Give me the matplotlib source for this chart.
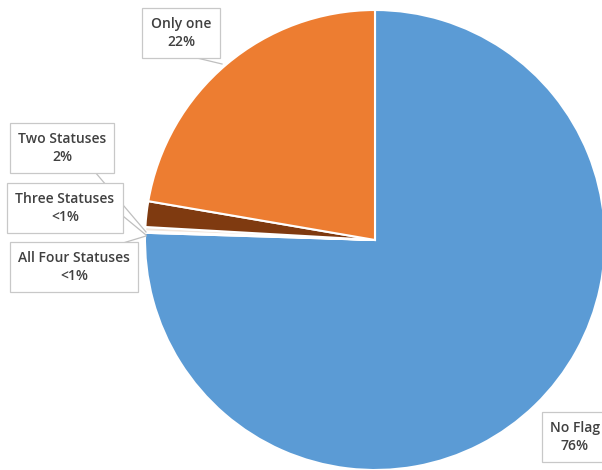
import matplotlib
matplotlib.use("Agg")
import matplotlib.pyplot as plt

categories = ["No Flag", "All Four Statuses", "Three Statuses", "Two Statuses", "Only one"]
values = [75.5, 0.1, 0.3, 1.8, 22.3]
pct_labels = ["76%", "<1%", "<1%", "2%", "22%"]
colors = ["#5B9BD5", "#E8EEF6", "#F2E6DC", "#7F3A10", "#ED7D31"]

W, H = 602, 470
fig = plt.figure(figsize=(W / 100, H / 100), dpi=100)
ax = fig.add_axes([0, 0, 1, 1])

cx, cy, r = 375, H - 240, 230
wedges, _ = ax.pie(values, colors=colors, startangle=90, counterclock=False,
                   center=(cx, cy), radius=r, frame=True,
                   wedgeprops=dict(edgecolor="white", linewidth=1.5))
ax.set_xlim(0, W)
ax.set_ylim(0, H)
ax.set_aspect("equal")
ax.axis("off")

# label positions (pixel coords, y from top) and leader-line targets
label_pos = {
    "No Flag": (575, 437),
    "All Four Statuses": (74, 267),
    "Three Statuses": (65, 208),
    "Two Statuses": (62, 148),
    "Only one": (181, 33),
}
leaders = {
    "All Four Statuses": ((100, 250), (146, 236)),
    "Three Statuses": ((112, 207), (146, 235)),
    "Two Statuses": ((95, 172), (146, 232)),
    "Only one": ((197, 58), (222, 64)),
}
for name, ((x0, y0), (x1, y1)) in leaders.items():
    ax.plot([x0, x1], [H - y0, H - y1], color="#BFBFBF", lw=0.9, zorder=3)

for name, pct in zip(categories, pct_labels):
    x, y = label_pos[name]
    ax.text(x, H - y, f"{name}\n{pct}", ha="center", va="center",
            fontsize=10, fontweight="semibold", color="#404040",
            family=["Open Sans", "DejaVu Sans"], linespacing=1.45,
            bbox=dict(boxstyle="square,pad=0.6", fc="white", ec="#C8C8C8", lw=0.9),
            zorder=4)

fig.savefig("out.png", dpi=100)
